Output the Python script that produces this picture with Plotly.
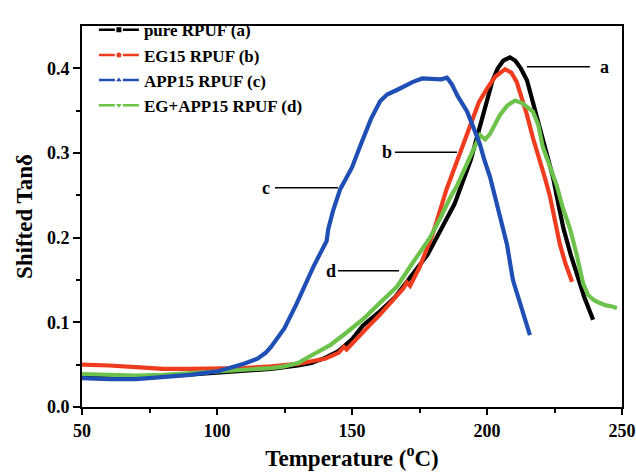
import plotly.graph_objects as go

# Temperature (°C) and shifted tan delta for each foam
temp_a = [50, 60, 70, 80, 90, 100, 110, 120, 130, 135, 140, 145, 150, 154, 160, 166, 172, 178,
          183, 188, 194, 196, 198, 200, 202, 204, 206, 208.5, 210.5, 212.5, 214.8, 217, 219.6,
          222, 224.4, 226.4, 228.3, 231, 233.5, 236, 239.3]
tan_a = [0.036, 0.035, 0.035, 0.036, 0.038, 0.040, 0.042, 0.045, 0.049, 0.052, 0.058, 0.066,
         0.080, 0.096, 0.112, 0.130, 0.155, 0.180, 0.210, 0.240, 0.292, 0.315, 0.338, 0.362,
         0.385, 0.400, 0.409, 0.413, 0.409, 0.400, 0.386, 0.360, 0.330, 0.300, 0.272, 0.240,
         0.211, 0.180, 0.153, 0.130, 0.103]

temp_b = [50, 55, 60, 70, 80, 90, 100, 110, 120, 125, 130, 135, 140, 145, 147, 148, 152, 156,
          160, 165, 169, 170.3, 171.5, 175, 180, 185, 190, 194, 197, 200, 203, 206.7, 209, 211,
          213, 214.8, 217, 219.6, 221.5, 223.3, 225.9, 227, 229, 231.5]
tan_b = [0.050, 0.050, 0.049, 0.047, 0.045, 0.045, 0.045, 0.046, 0.048, 0.049, 0.051, 0.054,
         0.057, 0.064, 0.071, 0.068, 0.082, 0.095, 0.108, 0.126, 0.140, 0.147, 0.143, 0.165,
         0.205, 0.257, 0.300, 0.335, 0.360, 0.376, 0.390, 0.399, 0.395, 0.384, 0.365, 0.345,
         0.318, 0.292, 0.270, 0.249, 0.211, 0.192, 0.170, 0.148]

temp_c = [50, 55, 60, 70, 80, 90, 100, 105, 110, 115, 118, 120, 122, 125, 129.5, 132, 135.6,
          138, 140.6, 141.2, 142, 143, 145.6, 150, 153, 157, 160.4, 163, 167, 172.6, 176, 180,
          183, 185.2, 187, 189, 192.6, 195, 197.4, 199, 201.1, 203, 204.8, 207.4, 209.6, 211.5,
          213.3, 215.9]
tan_c = [0.034, 0.033, 0.033, 0.033, 0.035, 0.038, 0.042, 0.046, 0.051, 0.057, 0.064, 0.071,
         0.079, 0.093, 0.122, 0.140, 0.165, 0.180, 0.196, 0.210, 0.222, 0.232, 0.257, 0.283,
         0.308, 0.340, 0.361, 0.369, 0.375, 0.384, 0.388, 0.387, 0.387, 0.389, 0.381, 0.368,
         0.349, 0.330, 0.310, 0.292, 0.272, 0.248, 0.226, 0.192, 0.150, 0.130, 0.111, 0.085]

temp_d = [50, 60, 70, 80, 90, 100, 110, 120, 125, 130, 135.6, 138, 141.9, 148, 154.2, 160,
          166.6, 172, 178.9, 183, 186, 189, 193.7, 197.4, 199.3, 201, 204.8, 207.5, 210.4, 213,
          217, 219, 220.7, 223, 225.9, 228, 230.7, 233.2, 235.6, 237.5, 239.3, 241, 244, 246,
          248.1]
tan_d = [0.039, 0.038, 0.037, 0.038, 0.040, 0.041, 0.043, 0.046, 0.048, 0.052, 0.062, 0.066,
         0.073, 0.088, 0.104, 0.122, 0.142, 0.168, 0.200, 0.225, 0.245, 0.262, 0.295, 0.321,
         0.316, 0.322, 0.345, 0.356, 0.362, 0.359, 0.349, 0.333, 0.307, 0.285, 0.261, 0.236,
         0.211, 0.180, 0.146, 0.132, 0.127, 0.124, 0.120, 0.119, 0.117]

series_names = ["pure RPUF (a)", "EG15 RPUF (b)", "APP15 RPUF (c)", "EG+APP15 RPUF (d)"]
series_colors = ["#000000", "#f03c1e", "#1f4fb4", "#6cc24a"]
legend_symbols = ["square", "circle", "triangle-up", "triangle-down"]
series_x = [temp_a, temp_b, temp_c, temp_d]
series_y = [tan_a, tan_b, tan_c, tan_d]

# curve labels: letter, text position, leader line start/end
curve_labels = ["a", "b", "c", "d"]
label_pos = [(243.5, 0.402), (163.0, 0.301), (118.3, 0.259), (142.4, 0.161)]
leader_x = [(214.8, 238.1), (165.9, 188.9), (121.5, 144.8), (144.8, 167.4)]

FONT = "Liberation Serif"

fig = go.Figure()

# data curves (black, red, green, blue drawing order)
for i in [0, 1, 3, 2]:
    fig.add_trace(go.Scatter(
        x=series_x[i], y=series_y[i], mode="lines",
        line=dict(color=series_colors[i], width=4.2),
        showlegend=False, hoverinfo="skip"))

# legend entries with dash-marker-dash samples
for i in range(4):
    fig.add_trace(go.Scatter(
        x=[None], y=[None], mode="lines+markers", name=series_names[i],
        line=dict(color=series_colors[i], width=2.5, dash="16px,8px"),
        marker=dict(symbol=legend_symbols[i], size=5, color=series_colors[i])))

for (lx, ly), (x0, x1), txt in zip(label_pos, leader_x, curve_labels):
    fig.add_shape(type="line", x0=x0, x1=x1, y0=ly, y1=ly, xref="x", yref="y",
                  line=dict(color="black", width=1.5))
    fig.add_annotation(x=lx, y=ly, text=txt, showarrow=False, xref="x", yref="y",
                       font=dict(family=FONT, size=18, color="black", weight="bold"))

fig.update_layout(
    width=636, height=474,
    margin=dict(l=82, r=14, t=15, b=67),
    paper_bgcolor="white", plot_bgcolor="white",
    font=dict(family=FONT, color="black", weight="bold"),
    legend=dict(x=0.022, y=1.036, xanchor="left", yanchor="top",
                bgcolor="rgba(0,0,0,0)", font=dict(family=FONT, size=17, weight="bold"),
                tracegroupgap=0, itemwidth=40),
    xaxis=dict(
        range=[50, 250], tickvals=[50, 100, 150, 200, 250], showgrid=False, zeroline=False,
        showline=True, linecolor="black", linewidth=2, mirror=True, automargin=False,
        ticks="outside", ticklen=6, tickwidth=2, tickcolor="black",
        minor=dict(tickvals=[75, 125, 175, 225], ticks="outside", ticklen=4, tickwidth=2,
                   tickcolor="black"),
        tickfont=dict(family=FONT, size=18, weight="bold"),
        title=dict(text="Temperature (<sup>o</sup>C)", standoff=10,
                   font=dict(family=FONT, size=23, weight="bold"))),
    yaxis=dict(
        range=[0, 0.45], tickvals=[0, 0.1, 0.2, 0.3, 0.4], tickformat=".1f",
        showgrid=False, zeroline=False, automargin=False,
        showline=True, linecolor="black", linewidth=2, mirror=True,
        ticks="outside", ticklen=7, tickwidth=2, tickcolor="black",
        minor=dict(tickvals=[0.05, 0.15, 0.25, 0.35], ticks="outside", ticklen=4, tickwidth=2,
                   tickcolor="black"),
        tickfont=dict(family=FONT, size=18, weight="bold"),
        title=dict(text="Shifted Tanδ", standoff=8,
                   font=dict(family=FONT, size=23, weight="bold"))),
)

fig.write_html("out.html")
